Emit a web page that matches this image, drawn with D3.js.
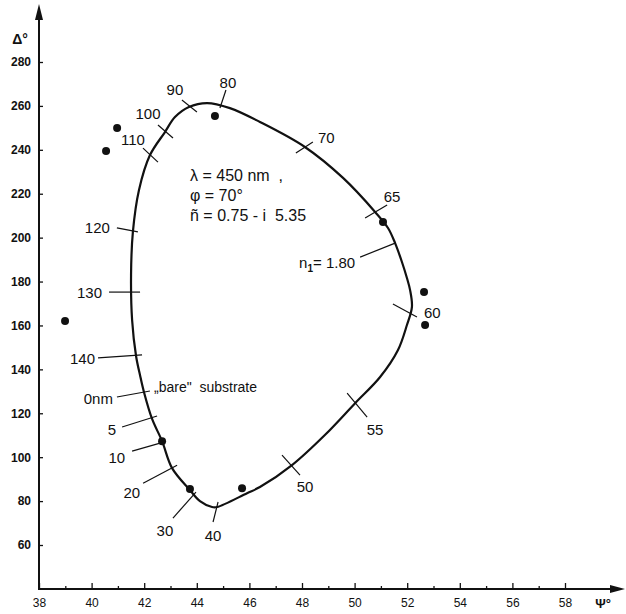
<!DOCTYPE html>
<html>
<head>
<meta charset="utf-8">
<script src="https://cdn.jsdelivr.net/npm/d3@7"></script>
<style>
  body { margin: 0; background: #fff; }
  svg { display: block; font-family: "Liberation Sans", "DejaVu Sans", sans-serif; }
  text { fill: #111; }
</style>
</head>
<body>
<svg id="chart" width="626" height="614"></svg>
<script>
// ellipsometric trajectory, psi / delta in degrees
var psiTicks = [38, 40, 42, 44, 46, 48, 50, 52, 54, 56, 58];
var psiMinor = [39, 41, 43, 45, 47, 49, 51, 53, 55, 57];
var deltaTicks = [60, 80, 100, 120, 140, 160, 180, 200, 220, 240, 260, 280];

// computed curve (closed loop, film thickness 0 .. ~145 nm)
var curvePsi = [41.99, 42.30, 42.68, 43.06, 43.74, 44.12, 44.58, 44.77, 45.91, 46.40, 47.62, 48.87, 50.02, 50.97, 51.65, 51.99, 52.18, 52.11, 51.99, 51.80, 51.54, 51.27, 50.78, 49.56, 48.11, 46.40, 45.26, 44.39, 43.70, 43.17, 42.79, 42.22, 41.80, 41.57, 41.50, 41.54, 41.69, 41.84];
var curveDelta = [129.7, 117.4, 107.3, 95.0, 85.0, 80.0, 77.3, 77.3, 83.6, 86.4, 96.4, 110.1, 124.6, 136.5, 148.8, 160.2, 168.5, 176.1, 181.6, 188.9, 197.5, 204.4, 211.7, 227.2, 241.3, 252.7, 259.0, 261.3, 259.5, 254.9, 248.1, 237.6, 221.6, 202.6, 183.0, 162.5, 146.1, 137.4];

// measured points
var measPsi = [40.97, 40.55, 38.99, 44.69, 51.08, 52.64, 52.68, 42.68, 43.74, 45.72];
var measDelta = [249.9, 239.5, 162.0, 255.4, 207.1, 175.2, 160.2, 107.3, 85.5, 85.9];

// thickness markers along the curve
var markLabels = ['0nm', '5', '10', '20', '30', '40', '50', '55', '60', '65', '70', '80', '90', '100', '110', '120', '130', '140'];
var markPsi = [41.99, 42.30, 42.68, 43.06, 43.74, 44.77, 47.62, 50.02, 52.18, 50.78, 48.11, 44.69, 43.70, 42.79, 42.22, 41.57, 41.50, 41.69];
var markDelta = [129.7, 117.4, 107.3, 95.0, 85.0, 77.3, 96.4, 124.6, 166.1, 211.7, 241.3, 255.4, 259.5, 248.1, 237.6, 202.6, 175.2, 146.1];

// layout of each marker: tick ends and label, pixel offsets from the anchor
var markLayout = [
    { t: [-27, 5, 6, -1], l: [-31, 7], a: 'end' },
    { t: [-30, 8, 5, -3], l: [-36, 11], a: 'end' },
    { t: [-30, 10, -2, 2], l: [-37, 16], a: 'end' },
    { t: [-29, 15, 5, -3], l: [-32, 24], a: 'end' },
    { t: [-17, 28, 6, 2], l: [-25, 40], a: 'middle' },
    { t: [-4, 15, 1, -5], l: [-4, 29], a: 'middle' },
    { t: [-10, -10, 8, 10], l: [13, 22], a: 'middle' },
    { t: [-8, -10, 12, 14], l: [20, 26], a: 'middle' },
    { t: [-19, -8, 5, 5], l: [12, 1], a: 'start' },
    { t: [-10, 6, 12, -7], l: [17, -15], a: 'middle' },
    { t: [-9, 6, 8, -5], l: [13, -9], a: 'start' },
    { t: [5, -8, 11, -26], l: [13, -33], a: 'middle' },
    { t: [-7, -7, 8, 5], l: [-14, -17], a: 'middle' },
    { t: [-7, -7, 8, 6], l: [-17, -18], a: 'middle' },
    { t: [-7, -7, 8, 7], l: [-17, -15], a: 'middle' },
    { t: [-16, -4, 5, 0], l: [-23, -4], a: 'end' },
    { t: [-22, 0, 9, 0], l: [-29, 1], a: 'end' },
    { t: [-38, 2, 6, -1], l: [-41, 3], a: 'end' }
];

var svg = d3.select('#chart');

var x = d3.scaleLinear().domain([38, 58]).range([39, 565]);
var y = d3.scaleLinear().domain([60, 280]).range([545, 62]);

var x0 = x(38);
var y0 = 589;

// axes
var gx = svg.append('g').attr('transform', `translate(0,${y0})`);
gx.call(d3.axisBottom(x).tickValues(psiTicks).tickSizeInner(-6).tickSizeOuter(0).tickPadding(9));
gx.append('g').call(d3.axisBottom(x).tickValues(psiMinor).tickSizeInner(-3).tickSizeOuter(0).tickFormat(''));
gx.selectAll('.domain').remove();
gx.selectAll('line').attr('stroke', '#111').attr('stroke-width', 1.3);
gx.selectAll('text').style('font-size', '12px').style('fill', '#111');

var gy = svg.append('g').attr('transform', `translate(${x0},0)`);
gy.call(d3.axisLeft(y).tickValues(deltaTicks).tickSizeInner(-4).tickSizeOuter(0).tickPadding(8));
gy.selectAll('.domain').remove();
gy.selectAll('line').attr('stroke', '#111').attr('stroke-width', 1.3);
gy.selectAll('text').style('font-size', '12px').style('font-weight', 'bold').style('fill', '#111');

// axis lines with arrows
svg.append('path')
    .attr('d', `M${x0},14 L${x0},${y0} L616,${y0}`)
    .attr('fill', 'none')
    .attr('stroke', '#111')
    .attr('stroke-width', 2);
svg.append('path')
    .attr('d', `M${x0},4 L${x0 - 4},20 L${x0 + 4},20 Z`)
    .attr('fill', '#111');
svg.append('path')
    .attr('d', `M625,${y0} L610,${y0 - 4} L610,${y0 + 4} Z`)
    .attr('fill', '#111');

svg.append('text')
    .attr('x', 20).attr('y', 44)
    .attr('text-anchor', 'middle')
    .style('font-size', '14px').style('font-weight', 'bold')
    .text('Δ°');
svg.append('text')
    .attr('x', 603).attr('y', 608)
    .attr('text-anchor', 'middle')
    .style('font-size', '13px').style('font-weight', 'bold')
    .text('Ψ°');

// trajectory
var pts = curvePsi.map(function (p, i) {
    return [x(p), y(curveDelta[i])];
});
svg.append('path')
    .attr('d', d3.line().curve(d3.curveCatmullRomClosed.alpha(0.5))(pts))
    .attr('fill', 'none')
    .attr('stroke', '#111')
    .attr('stroke-width', 2.2);

// thickness markers
var marks = svg.selectAll('.mark')
    .data(markLabels)
    .enter()
    .append('g')
    .attr('class', 'mark')
    .attr('transform', function (d, i) {
        return `translate(${x(markPsi[i])},${y(markDelta[i])})`;
    });
marks.append('line')
    .attr('x1', function (d, i) { return markLayout[i].t[0]; })
    .attr('y1', function (d, i) { return markLayout[i].t[1]; })
    .attr('x2', function (d, i) { return markLayout[i].t[2]; })
    .attr('y2', function (d, i) { return markLayout[i].t[3]; })
    .attr('stroke', '#111')
    .attr('stroke-width', 1.2);
marks.append('text')
    .attr('x', function (d, i) { return markLayout[i].l[0]; })
    .attr('y', function (d, i) { return markLayout[i].l[1]; })
    .attr('dy', '0.36em')
    .attr('text-anchor', function (d, i) { return markLayout[i].a; })
    .style('font-size', '15px')
    .text(function (d) { return d; });

// n1 label
var n1x = x(51.54), n1y = y(197.5);
svg.append('line')
    .attr('x1', n1x - 35).attr('y1', n1y + 14)
    .attr('x2', n1x).attr('y2', n1y)
    .attr('stroke', '#111').attr('stroke-width', 1.2);
var n1 = svg.append('text')
    .attr('x', n1x - 40).attr('y', n1y + 19)
    .attr('dy', '0.36em')
    .attr('text-anchor', 'end')
    .style('font-size', '15px');
n1.append('tspan').text('n');
n1.append('tspan').attr('dy', 4).style('font-size', '10px').style('font-weight', 'bold').text('1');
n1.append('tspan').attr('dy', -4).text('= 1.80');

// measured dots
svg.selectAll('.dot')
    .data(measPsi)
    .enter()
    .append('circle')
    .attr('class', 'dot')
    .attr('cx', function (d) { return x(d); })
    .attr('cy', function (d, i) { return y(measDelta[i]); })
    .attr('r', 4)
    .attr('fill', '#111');

// parameters
var info = ['λ = 450 nm  ,', 'φ = 70°', 'ñ = 0.75 - i  5.35'];
svg.selectAll('.info')
    .data(info)
    .enter()
    .append('text')
    .attr('class', 'info')
    .attr('x', 190)
    .attr('y', function (d, i) { return 175 + i * 20; })
    .attr('dy', '0.36em')
    .attr('xml:space', 'preserve')
    .style('font-size', '16px')
    .text(function (d) { return d; });

svg.append('text')
    .attr('x', 154).attr('y', 387)
    .attr('dy', '0.36em')
    .attr('xml:space', 'preserve')
    .style('font-size', '14px')
    .text('„bare"  substrate');
</script>
</body>
</html>
